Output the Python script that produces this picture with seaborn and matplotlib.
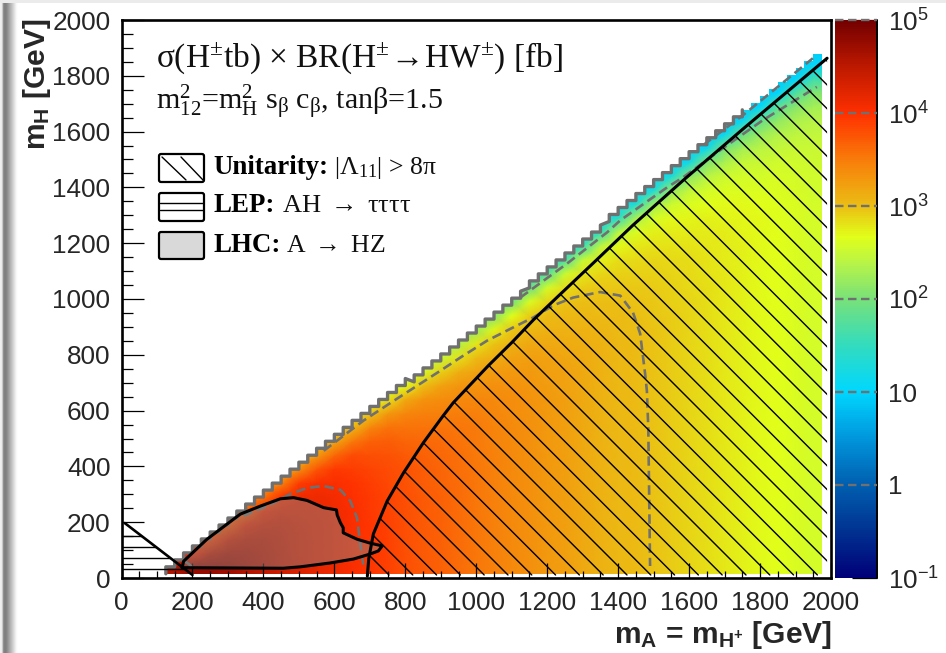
import numpy as np
import pandas as pd
import matplotlib
matplotlib.use("Agg")
import matplotlib.pyplot as plt
import matplotlib.transforms as mtrans
from matplotlib.colors import LinearSegmentedColormap, LogNorm
from matplotlib.patches import FancyBboxPatch, Polygon
from matplotlib.ticker import FixedLocator, NullFormatter
import seaborn as sns

# bin centres of the colour map [GeV]
mA_bins = list(range(150, 2000, 50))
mH_bins = list(range(40, 1940, 50))

# log10(xsec*BR / fb), one list per mA bin, from the lowest mH up to the edge
log_xsec = [
    [4.6, 4.0],
    [4.75, 4.0, 3.7],
    [4.75, 4.4, 3.85, 3.6],
    [4.7, 4.55, 4.25, 3.75, 3.5],
    [4.6, 4.55, 4.4, 4.15, 3.65, 3.4],
    [4.5, 4.48, 4.42, 4.28, 4.05, 3.55, 3.3],
    [4.38, 4.37, 4.35, 4.3, 4.2, 3.98, 3.45, 3.2],
    [4.28, 4.27, 4.26, 4.24, 4.2, 4.1, 3.9, 3.35, 3.1],
    [4.2, 4.2, 4.19, 4.18, 4.16, 4.12, 4.02, 3.75, 3.25, 3.0],
    [4.12, 4.12, 4.12, 4.11, 4.1, 4.08, 4.03, 3.93, 3.62, 3.15, 2.9],
    [4.03, 4.03, 4.03, 4.02, 4.02, 4.0, 3.97, 3.92, 3.82, 3.52, 3.05, 2.8],
    [3.95, 3.95, 3.95, 3.95, 3.94, 3.93, 3.91, 3.87, 3.8, 3.68, 3.42, 2.95, 2.65],
    [3.88, 3.88, 3.88, 3.88, 3.87, 3.86, 3.85, 3.82, 3.78, 3.7, 3.56, 3.28, 2.82, 2.55],
    [3.8, 3.8, 3.8, 3.8, 3.8, 3.79, 3.78, 3.76, 3.72, 3.66, 3.55, 3.42, 3.15, 2.7, 2.4],
    [3.73, 3.73, 3.73, 3.73, 3.73, 3.72, 3.71, 3.7, 3.68, 3.64, 3.57, 3.47, 3.32, 3.0, 2.58, 2.3],
    [3.67, 3.67, 3.67, 3.67, 3.67, 3.67, 3.66, 3.65, 3.63, 3.6, 3.55, 3.47, 3.36, 3.2, 2.9, 2.48, 2.2],
    [3.6, 3.6, 3.6, 3.6, 3.6, 3.6, 3.6, 3.59, 3.58, 3.56, 3.53, 3.48, 3.4, 3.3, 3.12, 2.82, 2.35, 2.05],
    [3.53, 3.53, 3.53, 3.53, 3.53, 3.53, 3.53, 3.53, 3.52, 3.51, 3.5, 3.46, 3.41, 3.33, 3.2, 3.03, 2.78, 2.2, 1.9],
    [3.46, 3.46, 3.46, 3.46, 3.46, 3.46, 3.46, 3.46, 3.46, 3.45, 3.44, 3.42, 3.39, 3.34, 3.26, 3.14, 2.98, 2.72, 2.05, 1.75],
    [3.4, 3.4, 3.4, 3.4, 3.4, 3.4, 3.4, 3.4, 3.4, 3.4, 3.39, 3.38, 3.36, 3.33, 3.28, 3.2, 3.08, 2.95, 2.66, 1.95, 1.65],
    [3.34, 3.34, 3.34, 3.34, 3.34, 3.34, 3.34, 3.34, 3.34, 3.34, 3.34, 3.33, 3.32, 3.3, 3.27, 3.22, 3.15, 3.05, 2.92, 2.62, 1.85, 1.5],
    [3.28, 3.28, 3.28, 3.28, 3.28, 3.28, 3.28, 3.28, 3.28, 3.28, 3.28, 3.28, 3.27, 3.26, 3.24, 3.2, 3.15, 3.1, 3.02, 2.88, 2.58, 1.75, 1.4],
    [3.22, 3.22, 3.22, 3.22, 3.22, 3.22, 3.22, 3.22, 3.22, 3.22, 3.22, 3.22, 3.22, 3.21, 3.2, 3.18, 3.14, 3.1, 3.05, 2.97, 2.83, 2.52, 1.65, 1.3],
    [3.16, 3.16, 3.16, 3.16, 3.16, 3.16, 3.16, 3.16, 3.16, 3.16, 3.16, 3.16, 3.16, 3.16, 3.15, 3.14, 3.12, 3.09, 3.05, 3.0, 2.92, 2.78, 2.48, 1.55, 1.2],
    [3.1, 3.1, 3.1, 3.1, 3.1, 3.1, 3.1, 3.1, 3.1, 3.1, 3.1, 3.1, 3.1, 3.1, 3.1, 3.09, 3.08, 3.06, 3.03, 3.0, 2.95, 2.87, 2.74, 2.44, 1.5, 1.15],
    [3.05, 3.05, 3.05, 3.05, 3.05, 3.05, 3.05, 3.05, 3.05, 3.05, 3.05, 3.05, 3.05, 3.05, 3.05, 3.05, 3.04, 3.03, 3.01, 3.0, 2.96, 2.91, 2.83, 2.7, 2.4, 1.45, 1.1],
    [3.01, 3.01, 3.01, 3.01, 3.01, 3.01, 3.01, 3.01, 3.01, 3.01, 3.01, 3.01, 3.01, 3.01, 3.01, 3.01, 3.01, 3.0, 2.99, 2.97, 2.95, 2.91, 2.86, 2.78, 2.62, 2.32, 1.35, 1.05],
    [2.97, 2.97, 2.97, 2.97, 2.97, 2.97, 2.97, 2.97, 2.97, 2.97, 2.97, 2.97, 2.97, 2.97, 2.97, 2.97, 2.97, 2.97, 2.96, 2.95, 2.93, 2.91, 2.87, 2.82, 2.74, 2.58, 2.25, 1.3, 1.0],
    [2.92, 2.92, 2.92, 2.92, 2.92, 2.92, 2.92, 2.92, 2.92, 2.92, 2.92, 2.92, 2.92, 2.92, 2.92, 2.92, 2.92, 2.92, 2.92, 2.91, 2.9, 2.88, 2.86, 2.82, 2.77, 2.68, 2.52, 2.18, 1.25, 0.98],
    [2.87, 2.87, 2.87, 2.87, 2.87, 2.87, 2.87, 2.87, 2.87, 2.87, 2.87, 2.87, 2.87, 2.87, 2.87, 2.87, 2.87, 2.87, 2.87, 2.87, 2.86, 2.85, 2.84, 2.81, 2.77, 2.72, 2.62, 2.45, 2.12, 1.2, 0.95],
    [2.83, 2.83, 2.83, 2.83, 2.83, 2.83, 2.83, 2.83, 2.83, 2.83, 2.83, 2.83, 2.83, 2.83, 2.83, 2.83, 2.83, 2.83, 2.83, 2.83, 2.83, 2.82, 2.81, 2.79, 2.77, 2.73, 2.67, 2.57, 2.38, 2.05, 1.15, 0.92],
    [2.78, 2.78, 2.78, 2.78, 2.78, 2.78, 2.78, 2.78, 2.78, 2.78, 2.78, 2.78, 2.78, 2.78, 2.78, 2.78, 2.78, 2.78, 2.78, 2.78, 2.78, 2.78, 2.77, 2.76, 2.75, 2.72, 2.68, 2.62, 2.52, 2.32, 2.0, 1.1, 0.9],
    [2.74, 2.74, 2.74, 2.74, 2.74, 2.74, 2.74, 2.74, 2.74, 2.74, 2.74, 2.74, 2.74, 2.74, 2.74, 2.74, 2.74, 2.74, 2.74, 2.74, 2.74, 2.74, 2.74, 2.73, 2.72, 2.71, 2.68, 2.63, 2.57, 2.47, 2.27, 1.92, 1.05, 0.9],
    [2.7, 2.7, 2.7, 2.7, 2.7, 2.7, 2.7, 2.7, 2.7, 2.7, 2.7, 2.7, 2.7, 2.7, 2.7, 2.7, 2.7, 2.7, 2.7, 2.7, 2.7, 2.7, 2.7, 2.7, 2.69, 2.68, 2.66, 2.63, 2.58, 2.5, 2.4, 2.2, 1.85, 1.0, 0.88],
    [2.66, 2.66, 2.66, 2.66, 2.66, 2.66, 2.66, 2.66, 2.66, 2.66, 2.66, 2.66, 2.66, 2.66, 2.66, 2.66, 2.66, 2.66, 2.66, 2.66, 2.66, 2.66, 2.66, 2.66, 2.66, 2.65, 2.64, 2.62, 2.59, 2.54, 2.46, 2.36, 2.16, 1.78, 1.0, 0.88],
    [2.62, 2.62, 2.62, 2.62, 2.62, 2.62, 2.62, 2.62, 2.62, 2.62, 2.62, 2.62, 2.62, 2.62, 2.62, 2.62, 2.62, 2.62, 2.62, 2.62, 2.62, 2.62, 2.62, 2.62, 2.62, 2.62, 2.61, 2.6, 2.58, 2.55, 2.5, 2.43, 2.32, 2.1, 1.7, 1.0, 0.88],
    [2.57, 2.57, 2.57, 2.57, 2.57, 2.57, 2.57, 2.57, 2.57, 2.57, 2.57, 2.57, 2.57, 2.57, 2.57, 2.57, 2.57, 2.57, 2.57, 2.57, 2.57, 2.57, 2.57, 2.57, 2.57, 2.57, 2.57, 2.56, 2.55, 2.53, 2.5, 2.45, 2.39, 2.27, 2.05, 1.6, 1.05, 0.9],
]

# kinematic edge: mA - mH at the stair corners, per stretch of mA [GeV]
edge_break_mA = [125, 825, 1150, 1375, 1976]
edge_delta = [85, 97, 85, 72]

# exclusion contours [GeV]
unit_mA = [693, 697, 710, 749, 795, 851, 907, 935, 1034, 1101, 1161, 1231, 1335, 1442, 1583, 1758, 1989]
unit_mH = [7, 70, 158, 276, 377, 485, 582, 628, 761, 845, 925, 1010, 1135, 1265, 1425, 1616, 1863]
lhc_mA = [171, 175, 241, 335, 392, 448, 485, 523, 570, 606, 608, 617, 625, 625, 664, 701, 735, 724, 701, 654, 589, 504, 456, 171]
lhc_mH = [37, 60, 139, 229, 258, 284, 288, 278, 252, 244, 226, 198, 180, 162, 139, 125, 115, 97, 86, 68, 54, 40, 35, 37]
lep_mA = [9, 200]
lep_mH = [197, 11]
lep_hatch_mH = [151, 111, 72, 32]

# xsec contours drawn dashed [GeV]
c4_mA = [344, 411, 476, 524, 569, 617, 645, 664, 673, 682]
c4_mH = [223, 258, 301, 323, 330, 316, 276, 215, 122, 43]
c4b_mA = [178, 190, 197, 200]
c4b_mH = [60, 50, 40, 30]
c3_mA = [570, 682, 777, 899, 955, 1031, 1104, 1161, 1217, 1273, 1349, 1406, 1442, 1462, 1476, 1481, 1485, 1490]
c3_mH = [456, 564, 643, 743, 790, 851, 898, 934, 977, 1005, 1025, 1012, 951, 876, 732, 671, 535, 43]
c2_mA = [1124, 1256, 1369, 1406, 1538, 1583, 1687, 1808, 1960]
c2_mH = [1005, 1127, 1239, 1282, 1400, 1436, 1533, 1641, 1760]
c1_mA = [1640, 1752, 1949]
c1_mH = [1552, 1659, 1863]

cbar_levels = [0.1, 1, 10, 100, 1000, 10000, 100000]
cbar_labels = [r"$10^{-1}$", "1", "10", r"$10^{2}$", r"$10^{3}$", r"$10^{4}$", r"$10^{5}$"]

# grey fade at the left edge of the page
strip_gray = [0.94, 0.92, 0.78, 0.55, 0.5, 0.5, 0.53, 0.58, 0.63, 0.68, 0.73, 0.78, 0.83, 0.88, 0.93, 0.97, 0.99, 1.0]

sns.set_theme(style="white")
plt.rcParams["font.family"] = ["Liberation Sans", "DejaVu Sans"]
plt.rcParams["mathtext.fontset"] = "custom"
plt.rcParams["mathtext.rm"] = "Liberation Sans"
plt.rcParams["mathtext.it"] = "Liberation Sans:italic"
plt.rcParams["mathtext.bf"] = "Liberation Sans:bold"
plt.rcParams["mathtext.default"] = "regular"

W, H = 946, 653
fig = plt.figure(figsize=(W / 100, H / 100), dpi=100, facecolor="white")
pix = mtrans.Affine2D().scale(1 / W, -1 / H).translate(0, 1) + fig.transFigure

ax_pos = [121.5 / W, 1 - 578 / H, 709.5 / W, 558 / H]
cax_pos = [834.5 / W, 1 - 578 / H, 42.5 / W, 558 / H]

ax_strip = fig.add_axes([0, 0, 18 / W, 1 - 3 / H])
ax_strip.imshow([strip_gray], cmap="gray", vmin=0, vmax=1, aspect="auto")
ax_strip.axis("off")
fig.patches.append(plt.Rectangle((0, 650 / H), 1, 3 / H, transform=fig.transFigure, fc="#ebebeb", ec="none"))

cmap = LinearSegmentedColormap.from_list("xsec", [
    (0 / 6, (0, 0, 120 / 255)),
    (0.5 / 6, (0, 50 / 255, 145 / 255)),
    (1 / 6, (0, 95 / 255, 176 / 255)),
    (1.5 / 6, (0, 150 / 255, 220 / 255)),
    (2 / 6, (0, 215 / 255, 1)),
    (2.5 / 6, (50 / 255, 220 / 255, 190 / 255)),
    (3 / 6, (120 / 255, 225 / 255, 120 / 255)),
    (3.4 / 6, (185 / 255, 245 / 255, 70 / 255)),
    (3.67 / 6, (225 / 255, 1, 25 / 255)),
    (4 / 6, (235 / 255, 190 / 255, 20 / 255)),
    (4.5 / 6, (248 / 255, 125 / 255, 10 / 255)),
    (5 / 6, (1, 48 / 255, 0)),
    (5.5 / 6, (190 / 255, 25 / 255, 0)),
    (6 / 6, (115 / 255, 0, 0)),
], N=256)

df = pd.DataFrame(index=mH_bins, columns=mA_bins, dtype=float)
for m, col in zip(mA_bins, log_xsec):
    df.loc[mH_bins[:len(col)], m] = col
# vertices past the edges repeat the nearest bin, the clip below cuts them away
df = df.ffill(axis=0)
df.insert(0, 100, df[150])
df[2000] = df[1950]
df = pd.concat([df.loc[[40]].rename(index={40: -10}), df])
df = 10 ** df

ax_map = fig.add_axes(ax_pos)
cax = fig.add_axes(cax_pos)
sns.heatmap(df, ax=ax_map, cmap=cmap, norm=LogNorm(0.1, 1e5), cbar_ax=cax, xticklabels=False, yticklabels=False, shading="gouraud")
ax_map.set_xlim(-2, 38)
ax_map.set_ylim(0.2, 40.2)
ax_map.axis("off")

ax = fig.add_axes(ax_pos, facecolor="none")
ax.set_xlim(0, 2000)
ax.set_ylim(0, 2000)

# the map ends on 25 GeV stairs along the kinematic edge
stair_left = np.arange(125, 1951, 25)
stair_top = stair_left - np.array(edge_delta)[np.searchsorted(edge_break_mA, stair_left, side="right") - 1]
stair_mA = np.column_stack([stair_left, stair_left]).ravel()
stair_mH = np.column_stack([stair_top - 25, stair_top]).ravel()
stair_mA = np.append(stair_mA, 1975)
stair_mH = np.append(stair_mH, stair_mH[-1])
clip_xy = list(zip(stair_mA, stair_mH)) + [(1975, 15), (125, 15)]
ax_map.collections[0].set_clip_path(Polygon(clip_xy, transform=ax.transData))

keep = stair_mA < 1760
ax.plot(stair_mA[keep], stair_mH[keep], color="#707070", lw=2.4, solid_joinstyle="round", zorder=3)

dash = dict(color="#707070", lw=1.9, ls=(0, (3.6, 1.9)), zorder=3)
ax.plot(c4_mA, c4_mH, **dash)
ax.plot(c4b_mA, c4b_mH, **dash)
ax.plot(c3_mA, c3_mH, **dash)
ax.plot(c2_mA, c2_mH, **dash)
ax.plot(c1_mA, c1_mH, **dash)

# unitarity hatch, 45 degrees on the page
unit_clip = Polygon(list(zip(unit_mA, unit_mH)) + [(1989, 7)], transform=ax.transData)
for x0 in np.arange(389, 1450, 23.8):
    ax.plot([x0, x0 - 560], [575, 15], transform=pix, color="black", lw=1.0, clip_path=unit_clip, zorder=4)
ax.plot(unit_mA, unit_mH, color="black", lw=2.2, zorder=5)

# LEP triangle
for y in lep_hatch_mH:
    ax.plot([0, 209 - y], [y, y], color="black", lw=1.0, zorder=4)
ax.plot(lep_mA, lep_mH, color="black", lw=1.9, zorder=5)

# LHC region
ax.fill(lhc_mA, lhc_mH, color="#888888", alpha=0.45, lw=0, zorder=4)
ax.plot(lhc_mA, lhc_mH, color="black", lw=2.2, zorder=5)

ax.set_xticks(range(0, 2001, 200))
ax.set_yticks(range(0, 2001, 200))
ax.xaxis.set_minor_locator(FixedLocator(range(0, 2001, 50)))
ax.yaxis.set_minor_locator(FixedLocator(range(0, 2001, 50)))
ax.tick_params(axis="x", which="major", direction="in", length=11, width=0.9, labelsize=18.8, pad=9, bottom=True, color="black")
ax.tick_params(axis="x", which="minor", direction="in", length=5, width=0.9, bottom=True, color="black")
ax.tick_params(axis="y", which="major", direction="in", length=16, width=0.9, labelsize=18.8, pad=8, left=True, color="black")
ax.tick_params(axis="y", which="minor", direction="in", length=8, width=0.9, left=True, color="black")
for s in ax.spines.values():
    s.set_visible(True)
    s.set_color("black")
    s.set_linewidth(1.9)

ax.set_xlabel(r"$\mathbf{m_{A}}$ = $\mathbf{m_{H^{+}}}$ [GeV]", fontsize=21.6, fontweight="bold", loc="right")
ax.xaxis.set_label_coords(1.002, -0.073)
ax.set_ylabel(r"$\mathbf{m_{H}}$ [GeV]", fontsize=21.6, fontweight="bold", loc="top")
ax.yaxis.set_label_coords(-0.097, 1.003)

# colour scale
cbar = ax_map.collections[0].colorbar
cbar.outline.set_visible(False)
cax.set_yticks(cbar_levels)
cax.set_yticklabels(cbar_labels)
cax.tick_params(axis="y", which="major", direction="in", right=True, left=False, length=18, width=0.9, labelsize=18.8, pad=8, color="black")
cax.tick_params(axis="y", which="minor", direction="in", right=True, left=False, length=8.5, width=0.9, color="black")
cax.yaxis.set_minor_formatter(NullFormatter())
cax.axvline(1, color="black", lw=1.4, clip_on=False)
for lev in cbar_levels[1:]:
    cax.plot([0, 1], [lev, lev], color="#707070", lw=1.7, ls=(0, (3.6, 1.9)), clip_on=False, zorder=6)

# header texts
serif = dict(transform=pix, family="Liberation Serif", math_fontfamily="stix", color="#111111", va="center", ha="left", zorder=8)
ax.text(156, 58, r"$\sigma$(H$^{\pm}$tb) $\times$ BR(H$^{\pm}$$\!\rightarrow\!$HW$^{\pm}$) [fb]", fontsize=24, **serif)
ax.text(156, 102, r"m$^{2}_{12}$=m$^{2}_{H}$ s$_{\beta}$ c$_{\beta}$, tan$\beta$=1.5", fontsize=21.6, **serif)

# legend by hand
box = dict(transform=pix, boxstyle="round,pad=0,rounding_size=2", lw=1.6, ec="black", zorder=7, clip_on=False)
ax.add_patch(FancyBboxPatch((159, 154), 45, 28, fc="white", **box))
ax.add_patch(FancyBboxPatch((159, 193), 45, 28, fc="white", **box))
ax.add_patch(FancyBboxPatch((159, 232), 45, 27, fc="#d9d9d9", **box))
ax.plot([162, 186], [157, 180], transform=pix, color="black", lw=1.0, zorder=8)
ax.plot([181, 203], [157, 180], transform=pix, color="black", lw=1.0, zorder=8)
ax.plot([160, 203], [203, 203], transform=pix, color="black", lw=1.0, zorder=8)
ax.plot([160, 203], [210, 210], transform=pix, color="black", lw=1.0, zorder=8)

bold = dict(transform=pix, family="Liberation Serif", fontweight="bold", fontsize=19.4, color="black", va="center", ha="left", zorder=8)
ax.text(213, 168, "Unitarity:", **bold)
ax.text(213, 206, "LEP:", **bold)
ax.text(213, 246, "LHC:", **bold)
ax.text(334, 168, r"|$\Lambda_{11}$| > 8$\pi$", fontsize=18.5, **serif)
ax.text(282, 206, r"AH $\rightarrow$ $\tau\tau\tau\tau$", fontsize=19, **serif)
ax.text(286, 246, r"A $\rightarrow$ HZ", fontsize=18.5, **serif)

plt.savefig("out.png", dpi=100)
